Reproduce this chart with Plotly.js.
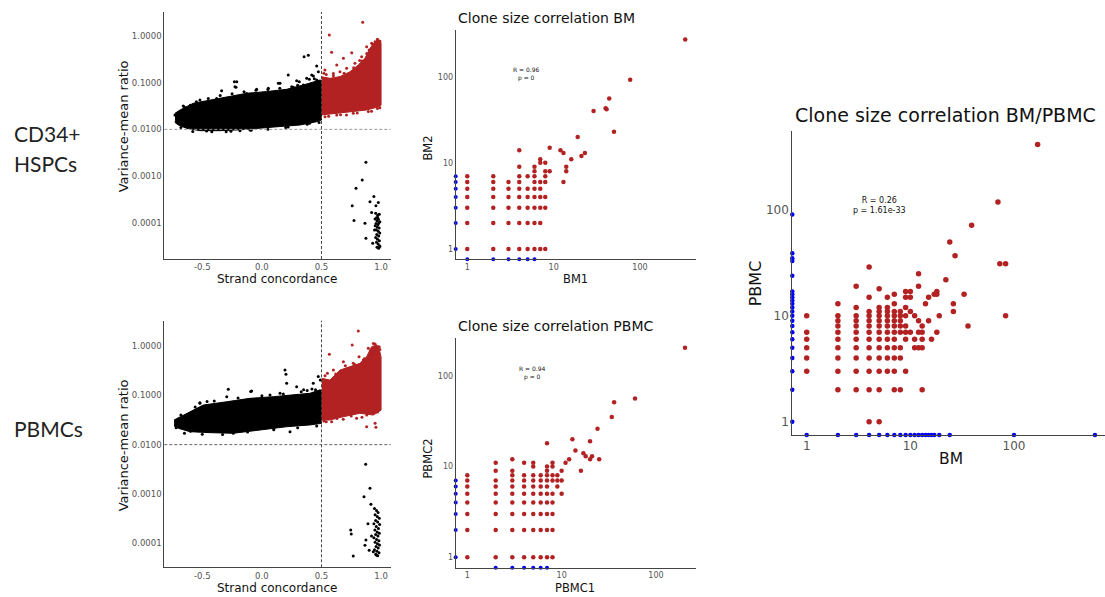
<!DOCTYPE html>
<html><head><meta charset="utf-8">
<script src="https://cdn.plot.ly/plotly-3.0.1.min.js"></script>
<style>html,body{margin:0;padding:0;background:#fff}#chart{width:1105px;height:597px}</style>
</head><body><div id="chart"></div>
<script>
// ---------------- DATA ----------------
// Panel A: CD34+ HSPCs, strand concordance vs variance-mean ratio
const hspcCoreX = [-0.729,-0.687,-0.575,-0.435,-0.295,-0.128,0.04,0.208,0.347,0.431,0.487,0.5,0.5,0.46,0.32,0.152,-0.016,-0.184,-0.352,-0.52,-0.631,-0.701,-0.729];
const hspcCoreY = [0.0221,0.0260,0.0363,0.0427,0.0501,0.0593,0.0646,0.0721,0.0891,0.105,0.114,0.112,0.0158,0.0146,0.0124,0.0115,0.0105,0.00977,0.00937,0.00937,0.0105,0.0124,0.0141];
const hspcBlackX = [0.354,0.39,0.221,0.46,-0.231,-0.217,-0.338,-0.226,-0.211,0.054,0.138,0.292,0.376,0.418,0.474,0.46,0.152,0.314,0.398,0.432,-0.044,-0.52,-0.66,-0.73,-0.72,-0.464,-0.184,0.096,0.264,0.348,0.488,0.488,-0.128,-0.38,-0.60,-0.09,-0.30,0.20,0.40,
  -0.65,-0.55,-0.45,-0.35,-0.25,-0.15,-0.05,0.05,0.15,0.25,0.30,0.44,-0.68,-0.58,-0.42,-0.26,-0.10,0.05,0.22,0.38,0.48];
const hspcBlackY = [0.361,0.385,0.146,0.228,0.105,0.0794,0.0674,0.0822,0.105,0.0759,0.097,0.110,0.124,0.146,0.172,0.114,0.0968,0.105,0.118,0.139,0.0721,0.0427,0.0316,0.0204,0.0146,0.0092,0.0093,0.0562,0.0794,0.0891,0.0968,0.0759,0.0589,0.0461,0.0330,0.00955,0.0089,0.0110,0.0135,
  0.030,0.039,0.046,0.053,0.058,0.064,0.069,0.071,0.076,0.082,0.088,0.121,0.0110,0.0090,0.0089,0.0091,0.0097,0.0101,0.0112,0.0128,0.0140];
const hspcRedCoreX = [0.502,0.571,0.656,0.74,0.809,0.865,0.907,0.949,0.99,1.0,1.0,0.99,0.879,0.74,0.6,0.502];
const hspcRedCoreY = [0.134,0.124,0.135,0.172,0.240,0.333,0.545,0.757,0.820,0.70,0.0331,0.0309,0.0260,0.0240,0.0221,0.0204];
const hspcRedX = [0.846,0.566,0.585,0.754,0.684,0.628,0.529,0.6,0.711,0.781,0.837,0.879,0.921,0.968,0.99,0.655,0.544,0.628,0.767,0.893,0.97,0.53,0.71,0.95,0.98,0.9,0.82,0.52,
  0.54,0.60,0.69,0.77,0.84,0.88,0.93,0.97,0.56,0.66,0.80,0.92,0.99];
const hspcRedY = [1.96,1.05,0.447,0.44,0.333,0.24,0.187,0.158,0.203,0.26,0.361,0.591,0.697,0.82,0.77,0.172,0.105,0.0204,0.0221,0.024,0.028,0.0186,0.0204,0.75,0.66,0.5,0.3,0.16,
  0.15,0.14,0.16,0.21,0.29,0.42,0.66,0.85,0.019,0.0205,0.0225,0.0245,0.029];
const hspcLowX = [0.873,0.842,0.79,0.758,0.773,0.94,0.907,0.977,0.957,0.921,0.865,0.873,0.93,0.99,0.945,0.955,0.972,0.985,0.962,0.978,0.99,0.958,0.975,0.951,0.968,0.984,0.96,0.976,0.989,0.964,0.98,0.955,0.97,0.986,0.962,0.975,0.988,0.966,0.98,0.972,0.982,0.966,0.95];
const hspcLowY = [0.00197,0.000824,0.000547,0.000232,0.000111,0.000363,0.000283,0.00027,0.00023,0.000166,0.0000977,0.0000467,0.0000363,0.0000309,0.00007,0.00016,0.000145,0.000152,0.000128,0.000118,0.000105,0.000096,0.000092,0.000086,0.000081,0.000077,0.000071,0.000066,0.00006,0.000056,0.000052,0.000048,0.000044,0.000041,0.000038,0.000035,0.000032,0.00003,0.0000285,0.00013,0.0001,0.00011,0.00012];

// Panel B: PBMCs
const pbmcCoreX = [-0.737,-0.631,-0.492,-0.295,-0.10,0.096,0.263,0.404,0.487,0.5,0.5,0.404,0.208,-0.016,-0.24,-0.435,-0.603,-0.701,-0.737];
const pbmcCoreY = [0.0316,0.0432,0.0635,0.0741,0.0869,0.0938,0.101,0.110,0.129,0.126,0.0270,0.0251,0.0231,0.0198,0.0170,0.0175,0.0183,0.0214,0.0240];
const pbmcBlackX = [0.194,0.202,0.208,0.292,0.431,0.473,0.49,-0.282,-0.094,-0.086,-0.295,-0.52,-0.46,0.068,0.152,0.236,-0.24,0.487,-0.52,0.35,-0.70,-0.60,0.1,0.42,0.38,
  -0.68,-0.56,-0.40,-0.20,0.0,0.18,0.33,0.45,-0.72,-0.65,-0.50,-0.33,-0.12,0.10,0.30,0.46];
const pbmcBlackY = [0.326,0.267,0.175,0.150,0.175,0.24,0.204,0.132,0.119,0.122,0.0938,0.0708,0.075,0.101,0.110,0.0183,0.0170,0.0589,0.069,0.13,0.033,0.0186,0.021,0.135,0.125,
  0.040,0.058,0.077,0.088,0.098,0.106,0.118,0.13,0.022,0.0170,0.0163,0.0160,0.0180,0.0200,0.0220,0.0240];
const pbmcRedCoreX = [0.502,0.571,0.656,0.74,0.823,0.879,0.921,0.963,0.99,1.0,1.0,0.935,0.823,0.683,0.571,0.502];
const pbmcRedCoreY = [0.221,0.204,0.326,0.380,0.445,0.607,0.968,1.05,0.767,0.6,0.0501,0.0398,0.0432,0.0368,0.0316,0.0316];
const pbmcRedX = [0.809,0.758,0.566,0.815,0.684,0.879,0.957,0.95,0.6,0.893,0.935,0.977,0.655,0.529,0.767,0.851,0.585,0.683,0.795,0.84,0.52,0.96,0.99,0.72,0.55,
  0.53,0.62,0.70,0.78,0.86,0.91,0.95,0.985,0.54,0.63,0.75,0.88,0.97];
const pbmcRedY = [2.01,1.05,0.678,0.607,0.48,0.0231,0.0224,0.027,0.326,0.898,1.13,0.97,0.24,0.175,0.445,0.52,0.0292,0.0326,0.0341,0.036,0.03,1.0,0.85,0.35,0.28,
  0.25,0.27,0.40,0.42,0.55,0.80,1.1,0.95,0.029,0.034,0.038,0.040,0.046];
const pbmcLowX = [0.871,0.907,0.857,0.915,0.745,0.75,0.767,0.873,0.865,0.9,0.935,0.963,0.92,0.89,0.945,0.962,0.975,0.95,0.968,0.985,0.955,0.972,0.94,0.988,0.96,0.978,0.948,0.967,0.985,0.955,0.974,0.94,0.962,0.982,0.95,0.97,0.987,0.958,0.976,0.945,0.965,0.983,0.955,0.972];
const pbmcLowY = [0.00398,0.0013,0.00088,0.000616,0.000186,0.000155,0.000055,0.000116,0.0000912,0.0000724,0.0000676,0.0000575,0.00014,0.00025,0.00051,0.00046,0.00042,0.00038,0.00035,0.00032,0.00029,0.00027,0.00025,0.00024,0.00022,0.0002,0.000185,0.00017,0.00016,0.00015,0.00014,0.00013,0.00012,0.000112,0.000105,0.000098,0.000092,0.000086,0.00008,0.000074,0.000069,0.000064,0.00006,0.000056];

const concordanceCut = 0.5;
const ratioCut = 0.01;

// Panel C: BM1 vs BM2 clone sizes (columns of integer values)
const bm1Cols = [1,2,3,4,5,6,7,8,9];
const bm2ByCol = [[1,2,3,4,5,6,7],[1,2,3,4,5,6,7],[1,2,3,4,5,6],[1,2,3,4,5,6,7,9,14],[1,2,3,4,5,7],[1,2,3,4,5,6,7,8,9],[1,2,3,4,5,6,10,11],[1,3,4,6,7,8,10],[8,15]];
const bm1Other = [12,13,13,14,14,16,19,21,23,29,40,41,44,50,77,334];
const bm2Other = [14,13,6,9,8,11,20,12,13,40,43,42,56,23,92,271];
const bm2WhereBm1Zero = [1,2,3,4,5,6,7];
const bm1WhereBm2Zero = [1,2,3,4,5,6];
const bmR = '0.96', bmP = '0';

// Panel D: PBMC1 vs PBMC2
const pb1Cols = [1,2,3,4,5,6,7,8,9,10];
const pb2ByCol = [[1,2,3,4,5,6,7,8],[1,2,3,4,5,6,7,9,11],[1,2,3,4,5,6,7,8,9,12],[1,2,3,4,5,6,7,8,11],[1,2,3,4,5,6,7,8,10,11],[1,2,3,4,5,6,7,8],[1,2,3,4,5,6,7,8,9,10,18],[1,2,3,4,5,7,8,10,11],[6,7,8],[5,7,9]];
const pb1Other = [11,12,13,14,16,17,18,20,20,21,24,25,34,36,60,203];
const pb2Other = [11,12,20,15,9,14,13,12,19,13,26,12,35,51,56,203];
const pb2WherePb1Zero = [1,2,3,4,5,6,7];
const pb1WherePb2Zero = [2,3,4,5,6,7];
const pbR = '0.94', pbP = '0';

// Panel E: BM vs PBMC
const bmCols = [1,2,3,4,5,6,7,8,9,10,11,12,13,14,15,16,17,18,19];
const pbByCol = [[3,4,5,6,7,10],[2,3,4,5,6,7,8,9,10,13],[2,3,4,5,6,7,8,9,10,12,19],[1,2,3,4,5,6,7,8,9,10,11,15,29],[1,2,3,4,5,6,7,8,9,10,11,12,18],[3,4,5,6,7,8,9,10,11,12,15],[2,3,4,5,6,7,8,9,10,11,13,16],[2,4,5,7,8,9,10,11],[3,6,7,8,10,12,15,17],[7,11,15,17],[5,6,10],[5,7,9,19,25],[2,5,6,7,8],[13],[9,15],[6],[16],[7,16,17],[10]];
const bmOther = [22,24,26,26,27,33,36,39,70,73,83,83,169];
const pbOther = [22,50,13,11,37,16,8,72,119,31,31,10,417];
const pbWhereBmZero = [1,2,3,4,5,6,7,8,9,10,11,12,13,14,15,16,17,24,33,35,39,91];
const bmWherePbZero = [1,2,3,4,5,6,7,8,9,10,11,12,13,14,15,16,17,19,24,100,604];
const bpR = '0.26', bpP = '1.61e-33';

// ---------------- BUILD ----------------
const RED = '#B22222', BLUE = '#0000FF', FONT = 'DejaVu Sans';
const W = 1105, H = 597;
const px = v => v / W, py = v => 1 - v / H;

function expand(cols, byCol, ox, oy, yZero, xZero) {
  const X = [], Y = [];
  cols.forEach((c, i) => byCol[i].forEach(v => { X.push(c); Y.push(v); }));
  ox.forEach((v, i) => { X.push(v); Y.push(oy[i]); });
  yZero.forEach(v => { X.push(0); Y.push(v); });
  xZero.forEach(v => { X.push(v); Y.push(0); });
  return {X, Y};
}

function clonePanel(d, xa, ya, xr, yr, sRed, sBlue) {
  const rx = [], ry = [], bx = [], by = [];
  const xlo = Math.pow(10, xr[0]), ylo = Math.pow(10, yr[0]);
  d.X.forEach((x, i) => {
    const y = d.Y[i];
    if (x > 0 && y > 0) { rx.push(x); ry.push(y); }
    else { bx.push(x > 0 ? x : xlo); by.push(y > 0 ? y : ylo); }
  });
  return [
    {type:'scatter', mode:'markers', x:rx, y:ry, xaxis:xa, yaxis:ya, cliponaxis:false, hoverinfo:'skip',
     marker:{color:RED, size:sRed, line:{width:0}}},
    {type:'scatter', mode:'markers', x:bx, y:by, xaxis:xa, yaxis:ya, cliponaxis:false, hoverinfo:'skip',
     marker:{color:BLUE, size:sBlue, line:{width:0}}}
  ];
}

function poly(x, y, color, xa, ya) {
  return {type:'scatter', mode:'lines', x:x, y:y, fill:'toself', fillcolor:color,
    line:{color:color, width:1}, xaxis:xa, yaxis:ya, hoverinfo:'skip'};
}
function pts(x, y, color, size, xa, ya) {
  return {type:'scatter', mode:'markers', x:x, y:y, xaxis:xa, yaxis:ya, hoverinfo:'skip', cliponaxis:false,
    marker:{color:color, size:size, line:{width:0}}};
}

const rA = {x:[-0.819,1.081], y:[-4.777,0.514]};
const rB = {x:[-0.819,1.081], y:[-4.487,0.513]};
const rC = {x:[-0.134,2.645], y:[-0.12,2.542]};
const rD = {x:[-0.123,2.421], y:[-0.115,2.412]};
const rE = {x:[-0.139,2.878], y:[-0.126,2.75]};

const traces = [
  poly(hspcCoreX, hspcCoreY, '#000', 'x', 'y'),
  pts(hspcBlackX, hspcBlackY, '#000', 3, 'x', 'y'),
  poly(hspcRedCoreX, hspcRedCoreY, RED, 'x', 'y'),
  pts(hspcRedX, hspcRedY, RED, 3, 'x', 'y'),
  pts(hspcLowX, hspcLowY, '#000', 3, 'x', 'y'),
  poly(pbmcCoreX, pbmcCoreY, '#000', 'x2', 'y2'),
  pts(pbmcBlackX, pbmcBlackY, '#000', 3, 'x2', 'y2'),
  poly(pbmcRedCoreX, pbmcRedCoreY, RED, 'x2', 'y2'),
  pts(pbmcRedX, pbmcRedY, RED, 3, 'x2', 'y2'),
  pts(pbmcLowX, pbmcLowY, '#000', 3, 'x2', 'y2'),
  ...clonePanel(expand(bm1Cols, bm2ByCol, bm1Other, bm2Other, bm2WhereBm1Zero, bm1WhereBm2Zero), 'x3', 'y3', rC.x, rC.y, 4.5, 4),
  ...clonePanel(expand(pb1Cols, pb2ByCol, pb1Other, pb2Other, pb2WherePb1Zero, pb1WherePb2Zero), 'x4', 'y4', rD.x, rD.y, 4.5, 4),
  ...clonePanel(expand(bmCols, pbByCol, bmOther, pbOther, pbWhereBmZero, bmWherePbZero), 'x5', 'y5', rE.x, rE.y, 5.5, 4.5)
];

function axis(domain, range, anchor, extra) {
  return Object.assign({domain:domain, range:range, anchor:anchor, showline:true, linecolor:'#444', linewidth:1,
    showgrid:false, zeroline:false, ticks:'', fixedrange:true,
    tickfont:{family:FONT, size:8.5, color:'#555'}}, extra || {});
}
const leftY = {type:'log', tickvals:[1,0.1,0.01,0.001,0.0001], ticktext:['1.0000','0.1000','0.0100','0.0010','0.0001']};
const leftX = {tickvals:[-0.5,0,0.5,1], ticktext:['-0.5','0.0','0.5','1.0']};
const logT = {type:'log', tickvals:[1,10,100], ticktext:['1','10','100']};
const smallTick = {tickfont:{family:FONT, size:8, color:'#555'}};
const bigTick = {tickfont:{family:FONT, size:12, color:'#555'}};

const layout = {
  width:W, height:H, margin:{l:0,r:0,t:0,b:0}, paper_bgcolor:'#fff', plot_bgcolor:'#fff', showlegend:false,
  xaxis: axis([px(164.3), px(390.7)], rA.x, 'y', leftX),
  yaxis: axis([py(259), py(12)], rA.y, 'x', leftY),
  xaxis2: axis([px(164.3), px(390.7)], rB.x, 'y2', leftX),
  yaxis2: axis([py(567.3), py(320.7)], rB.y, 'x2', leftY),
  xaxis3: axis([px(455.7), px(695.7)], rC.x, 'y3', Object.assign({}, smallTick, logT)),
  yaxis3: axis([py(259.3), py(30)], rC.y, 'x3', Object.assign({}, smallTick, logT)),
  xaxis4: axis([px(455.7), px(695.7)], rD.x, 'y4', Object.assign({}, smallTick, logT)),
  yaxis4: axis([py(567.7), py(338.3)], rD.y, 'x4', Object.assign({}, smallTick, logT)),
  xaxis5: axis([px(792.3), 1], rE.x, 'y5', Object.assign({}, bigTick, logT)),
  yaxis5: axis([py(435), py(130.7)], rE.y, 'x5', Object.assign({}, bigTick, logT)),
  shapes: [
    {type:'line', xref:'x', yref:'y domain', x0:concordanceCut, x1:concordanceCut, y0:0, y1:1, line:{color:'#444', width:1, dash:'3px,2px'}},
    {type:'line', xref:'x domain', yref:'y', x0:0, x1:1, y0:ratioCut, y1:ratioCut, line:{color:'#999', width:1, dash:'3px,2px'}},
    {type:'line', xref:'x2', yref:'y2 domain', x0:concordanceCut, x1:concordanceCut, y0:0, y1:1, line:{color:'#444', width:1, dash:'3px,2px'}},
    {type:'line', xref:'x2 domain', yref:'y2', x0:0, x1:1, y0:ratioCut, y1:ratioCut, line:{color:'#666', width:1, dash:'3px,2px'}}
  ],
  annotations: []
};

function note(text, x, y, size, opts) {
  layout.annotations.push(Object.assign({text:text, x:px(x), y:py(y), xref:'paper', yref:'paper', showarrow:false,
    xanchor:'center', yanchor:'middle', font:{family:FONT, size:size, color:'#111'}}, opts || {}));
}
// row labels
note('CD34+', 11.7, 133.3, 21, {xanchor:'left', font:{family:'Lato', size:21, color:'#222'}});
note('HSPCs', 11.7, 163.3, 21, {xanchor:'left', font:{family:'Lato', size:21, color:'#222'}});
note('PBMCs', 12, 428.3, 21, {xanchor:'left', font:{family:'Lato', size:21, color:'#222'}});
// axis titles, left panels
note('Strand concordance', 276.7, 279, 12);
note('Variance-mean ratio', 123.3, 126, 13, {textangle:-90});
note('Strand concordance', 276.7, 588, 12);
note('Variance-mean ratio', 123.3, 445, 13, {textangle:-90});
// middle panels
note('Clone size correlation BM', 455.7, 18, 14, {xanchor:'left'});
note('BM1', 575.7, 279, 11.5);
note('BM2', 428.3, 148.3, 11.5, {textangle:-90});
note('R = ' + bmR + '<br>p = ' + bmP, 526.7, 74.3, 6);
note('Clone size correlation PBMC', 455.7, 326, 14, {xanchor:'left'});
note('PBMC1', 575, 587.5, 11.5);
note('PBMC2', 428.3, 458.3, 11.5, {textangle:-90});
note('R = ' + pbR + '<br>p = ' + pbP, 532.3, 373, 6);
// right panel
note('Clone size correlation BM/PBMC', 792.7, 115, 19, {xanchor:'left'});
note('BM', 950.7, 459.3, 15.5);
note('PBMC', 755, 283.3, 16, {textangle:-90});
note('R = ' + bpR + '<br>p = ' + bpP, 879.3, 205.5, 8);

Plotly.newPlot('chart', traces, layout, {staticPlot:true, displayModeBar:false});
</script></body></html>
